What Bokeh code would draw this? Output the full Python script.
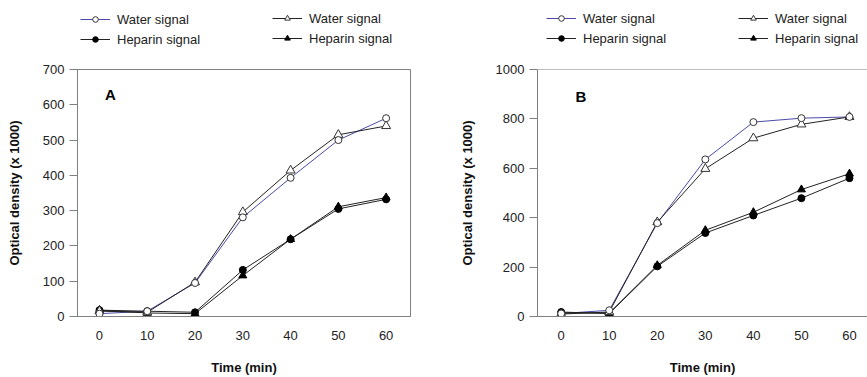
from bokeh.plotting import figure
from bokeh.layouts import row, column
from bokeh.models import (Range1d, FixedTicker, Legend, LegendItem, Label, Span)
from bokeh.embed import file_html
from bokeh.resources import INLINE

# ---------------- data ----------------
time_min = [0, 10, 20, 30, 40, 50, 60]

# Panel A
a_water_circle = [8, 15, 95, 281, 393, 500, 562]
a_water_tri = [15, 12, 97, 296, 414, 515, 540]
a_heparin_circle = [18, 15, 12, 132, 219, 305, 332]
a_heparin_tri = [18, 10, 8, 116, 219, 311, 337]

# Panel B
b_water_circle = [12, 25, 378, 636, 787, 803, 808]
b_water_tri = [10, 18, 382, 598, 722, 778, 808]
b_heparin_circle = [18, 12, 203, 338, 409, 479, 560]
b_heparin_tri = [15, 14, 207, 349, 422, 514, 578]

a_yticks = [0, 100, 200, 300, 400, 500, 600, 700]
b_yticks = [0, 200, 400, 600, 800, 1000]
xticks = [0, 10, 20, 30, 40, 50, 60]

legend_labels = ["Water signal", "Heparin signal"]

FONT = "Liberation Sans"
AXIS_GRAY = "#808080"
TEXT = "#222222"
BLUE = "#4a4aa8"
DARK = "#222222"

STYLES = {
    "wc": dict(line=dict(line_color=BLUE, line_width=1),
               mark=dict(marker="circle", size=7, line_color="#333333", fill_color="white")),
    "wt": dict(line=dict(line_color=DARK, line_width=1),
               mark=dict(marker="triangle", size=9, line_color="#333333", fill_color="white")),
    "hc": dict(line=dict(line_color=DARK, line_width=1),
               mark=dict(marker="circle", size=7, line_color="black", fill_color="black")),
    "ht": dict(line=dict(line_color=DARK, line_width=1),
               mark=dict(marker="triangle", size=8, line_color="black", fill_color="black")),
}

LEG_H = 60


def make_legend_fig(width, series, loc1, loc2):
    # legend proxies: the real series, drawn in a view range that hides them
    lf = figure(width=width, height=LEG_H, output_backend="svg", toolbar_location=None,
                x_axis_type=None, y_axis_type=None,
                x_range=Range1d(-1000, -999), y_range=Range1d(-1000, -999),
                min_border_left=0, min_border_right=0, min_border_top=0, min_border_bottom=0)
    lf.outline_line_color = None
    lf.grid.visible = False
    lf.background_fill_color = "white"
    lf.border_fill_color = "white"
    r = {}
    for k, ys in series.items():
        st = STYLES[k]
        mark = dict(st["mark"])
        mark["size"] = 6 if mark["marker"] == "circle" else 7
        r[k] = [lf.line(time_min, ys, **st["line"]), lf.scatter(time_min, ys, **mark)]

    def mk(items, loc):
        return Legend(items=items, location=loc, orientation="vertical",
                      spacing=0, padding=0, margin=0, glyph_width=30, glyph_height=14,
                      label_height=20, label_standoff=7,
                      label_text_font=FONT, label_text_font_size="13px",
                      label_text_color=TEXT,
                      background_fill_alpha=0, border_line_alpha=0)

    lg1 = mk([LegendItem(label=legend_labels[0], renderers=r["wc"], index=0),
              LegendItem(label=legend_labels[1], renderers=r["hc"], index=0)], loc1)
    lg2 = mk([LegendItem(label=legend_labels[0], renderers=r["wt"], index=0),
              LegendItem(label=legend_labels[1], renderers=r["ht"], index=0)], loc2)
    lf.add_layout(lg1, "center")
    lf.add_layout(lg2, "center")
    return lf


def make_panel(width, x_range, y_range, yticks, series,
               panel_label, label_xy, min_left, min_right, boxed):
    p = figure(width=width, height=377 - LEG_H, output_backend="svg", toolbar_location=None,
               x_range=Range1d(*x_range), y_range=Range1d(*y_range),
               min_border_left=min_left, min_border_right=min_right,
               min_border_top=69 - LEG_H, min_border_bottom=61)
    p.background_fill_color = "white"
    p.border_fill_color = "white"
    p.grid.visible = False
    if boxed:
        p.outline_line_color = AXIS_GRAY
        p.outline_line_width = 1
    else:
        p.outline_line_color = None
        p.add_layout(Span(location=y_range[1], dimension="width",
                          line_color=AXIS_GRAY, line_width=1))

    xa = p.xaxis[0]
    xa.ticker = FixedTicker(ticks=xticks)
    xa.major_tick_out = 0
    xa.major_tick_in = 0
    xa.minor_tick_out = 0
    xa.minor_tick_in = 0
    xa.axis_line_color = AXIS_GRAY
    xa.major_label_standoff = 14
    xa.major_label_text_font = FONT
    xa.major_label_text_font_size = "13px"
    xa.major_label_text_color = TEXT
    xa.axis_label = "Time (min)"
    xa.axis_label_text_font = FONT
    xa.axis_label_text_font_size = "13px"
    xa.axis_label_text_font_style = "bold"
    xa.axis_label_text_color = "#111111"
    xa.axis_label_standoff = 17

    ya = p.yaxis[0]
    ya.ticker = FixedTicker(ticks=yticks)
    ya.major_tick_out = 8
    ya.major_tick_in = 0
    ya.minor_tick_out = 0
    ya.minor_tick_in = 0
    ya.axis_line_color = AXIS_GRAY
    ya.major_tick_line_color = AXIS_GRAY
    ya.major_label_standoff = 5
    ya.major_label_text_font = FONT
    ya.major_label_text_font_size = "13px"
    ya.major_label_text_color = TEXT
    ya.axis_label = "Optical density (x 1000)"
    ya.axis_label_text_font = FONT
    ya.axis_label_text_font_size = "13px"
    ya.axis_label_text_font_style = "bold"
    ya.axis_label_text_color = "#111111"
    ya.axis_label_standoff = 18

    for k in ["wc", "wt", "hc", "ht"]:
        p.line(time_min, series[k], **STYLES[k]["line"])
    for k in ["hc", "ht", "wt", "wc"]:
        p.scatter(time_min, series[k], **STYLES[k]["mark"])

    p.add_layout(Label(x=label_xy[0], y=label_xy[1], text=panel_label,
                       text_font=FONT, text_font_size="15px", text_font_style="bold",
                       text_color="black", text_align="center", text_baseline="middle"))
    return p


series_a = {"wc": a_water_circle, "wt": a_water_tri, "hc": a_heparin_circle, "ht": a_heparin_tri}
series_b = {"wc": b_water_circle, "wt": b_water_tri, "hc": b_heparin_circle, "ht": b_heparin_tri}

legA = make_legend_fig(438, series_a, (80, LEG_H - 49), (272, LEG_H - 48))
legB = make_legend_fig(429, series_b, (108, LEG_H - 48), (300, LEG_H - 48))

pA = make_panel(438, (-4.6, 65.1), (0, 700), a_yticks, series_a,
                "A", (2.3, 630), 77, 28, True)
pB = make_panel(429, (-4.93, 63.75), (0, 1000), b_yticks, series_b,
                "B", (4.1, 890), 99, 0, False)

layout = column(row(legA, legB), row(pA, pB))
open("out.html", "w").write(file_html(layout, INLINE))
